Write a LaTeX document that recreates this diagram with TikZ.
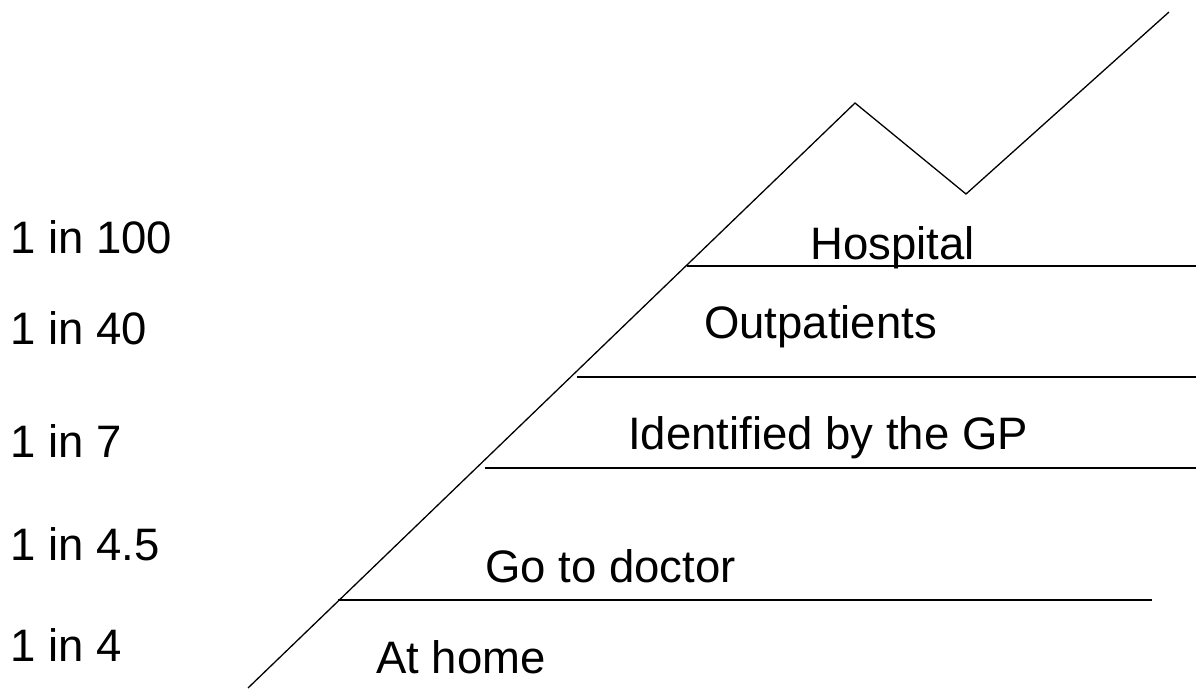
\documentclass[tikz,border=0pt]{standalone}
\usepackage{fontspec}
\setmainfont{Liberation Sans}
\usetikzlibrary{positioning}

\begin{document}
\begin{tikzpicture}[
  x=1pt,y=-1pt,
  every node/.style={inner sep=0pt,anchor=base west,
    font=\fontsize{45.5}{50}\selectfont},
  rate/.style={},
  stage/.style={},
  slope/.style={draw=black,line width=1.3pt,line join=miter},
  rung/.style={draw=black,line width=1.3pt}
]
  \useasboundingbox (0,0) rectangle (1196,688);

  % the mountain
  \coordinate (foot) at (248,688);
  \coordinate (peak) at (855,103);
  \coordinate (valley) at (966,194);
  \coordinate (tip) at (1169,12);
  \draw[slope] (foot) -- (peak) -- (valley) -- (tip);

  % levels
  \coordinate (doctorL) at (338,600);
  \coordinate (doctorR) at (1152,600);
  \coordinate (gpL) at (485,468);
  \coordinate (gpR) at (1196,468);
  \coordinate (outL) at (577,377);
  \coordinate (outR) at (1196,377);
  \coordinate (hospL) at (687,266);
  \coordinate (hospR) at (1196,266);
  \draw[rung] (doctorL) -- (doctorR);
  \draw[rung] (gpL) -- (gpR);
  \draw[rung] (outL) -- (outR);
  \draw[rung] (hospL) -- (hospR);

  % rates
  \node[rate] (r100) at (10,253) {1 in 100};
  \node[rate] (r40) at (10,344) {1 in 40};
  \node[rate] (r7) at (10,457) {1 in 7};
  \node[rate] (r45) at (10,560) {1 in 4.5};
  \node[rate] (r4) at (10,661) {1 in 4};

  % stages
  \node[stage] (hospital) at (810,259) {Hospital};
  \node[stage] (outpat) at (704,338) {Outpatients};
  \node[stage] (gp) at (628,449) {Identified by the GP};
  \node[stage] (doctor) at (485,582) {Go to doctor};
  \node[stage] (home) at (376,673) {At home};
\end{tikzpicture}
\end{document}
